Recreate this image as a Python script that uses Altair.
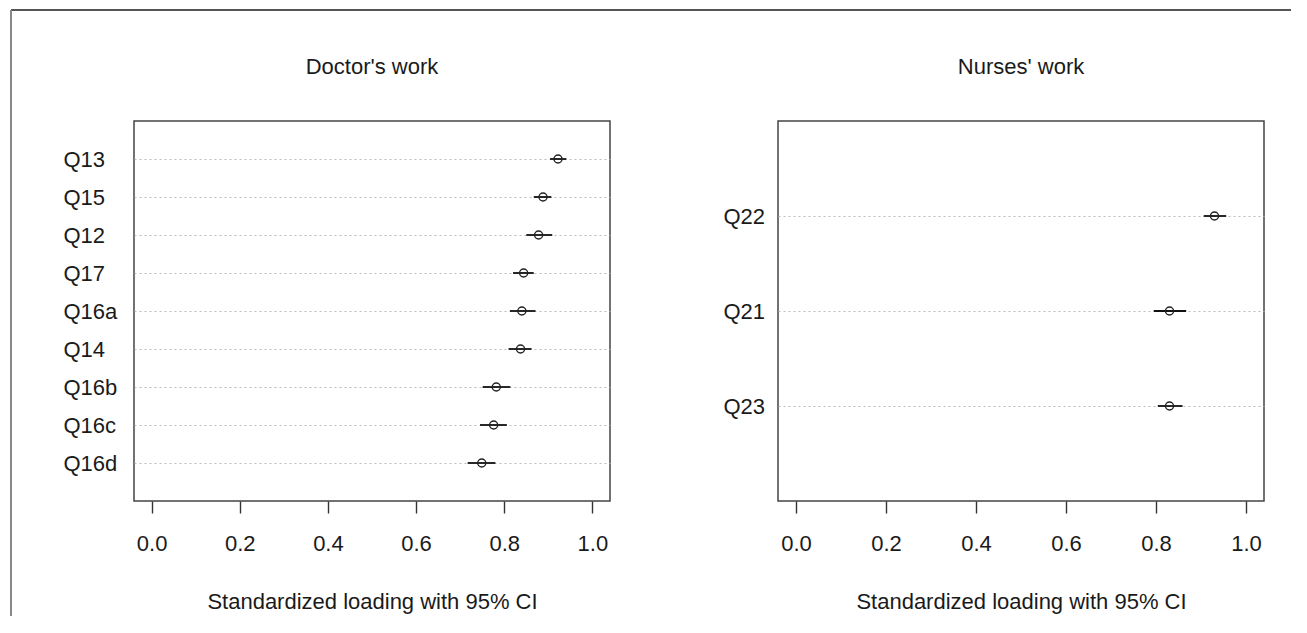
import altair as alt
import pandas as pd

# Doctor's work panel
doc_items = ["Q13", "Q15", "Q12", "Q17", "Q16a", "Q14", "Q16b", "Q16c", "Q16d"]
doc_est = [0.922, 0.888, 0.878, 0.844, 0.840, 0.837, 0.782, 0.776, 0.749]
doc_lo = [0.904, 0.867, 0.850, 0.820, 0.813, 0.810, 0.751, 0.745, 0.717]
doc_hi = [0.941, 0.907, 0.909, 0.867, 0.871, 0.862, 0.814, 0.806, 0.780]

# Nurses' work panel
nurse_items = ["Q22", "Q21", "Q23"]
nurse_est = [0.930, 0.830, 0.830]
nurse_lo = [0.906, 0.795, 0.804]
nurse_hi = [0.956, 0.867, 0.859]

x_ticks = [0.0, 0.2, 0.4, 0.6, 0.8, 1.0]
x_title = "Standardized loading with 95% CI"

FONT = "Liberation Sans"
FS = 22
TXT = "#1a1a1a"
H = 380


def panel(items, est, lo, hi, title, width, label_pad, frame=False):
    df = pd.DataFrame({"item": items, "est": est, "lo": lo, "hi": hi})
    xscale = alt.Scale(domain=[-0.04, 1.04], nice=False, zero=False)
    yscale = alt.Scale(type="point", padding=1)
    xaxis = alt.Axis(
        values=x_ticks, format=".1f", tickSize=12, tickColor="#333333",
        tickWidth=1.4, domain=False, grid=False, labelFontSize=FS,
        labelFont=FONT, labelColor=TXT, labelPadding=30,
        labelBaseline="middle", labelFlush=False, labelOverlap=False,
        title=x_title, titleY=100, titleBaseline="middle", titleFontSize=FS,
        titleFont=FONT, titleFontWeight="normal", titleColor=TXT,
    )
    yaxis = alt.Axis(
        title=None, labelAlign="left", labelPadding=label_pad, ticks=False,
        tickSize=0, domain=False, grid=True, gridDash=[2, 3],
        gridColor="#bbbbbb", gridWidth=1, labelFontSize=FS, labelFont=FONT,
        labelColor=TXT, labelBaseline="middle",
    )
    y_enc = alt.Y("item:N", sort=None, scale=yscale, axis=yaxis)
    base = alt.Chart(df)
    ci = base.mark_rule(color="#111111", strokeWidth=1.8).encode(
        x=alt.X("lo:Q", scale=xscale, axis=xaxis),
        x2="hi:Q",
        y=y_enc,
    )
    pts = base.mark_point(
        shape="circle", filled=False, size=65, strokeWidth=1.4,
        color="#222222", opacity=1,
    ).encode(
        x=alt.X("est:Q", scale=xscale),
        y=y_enc,
    )
    ttl = alt.Chart(alt.Data(values=[{"t": title}])).mark_text(
        fontSize=FS, font=FONT, color=TXT, align="center", baseline="middle"
    ).encode(text="t:N", x=alt.value(width / 2), y=alt.value(-54))
    layers = [ci, pts, ttl]
    if frame:
        one = alt.Data(values=[{"a": 1}])
        top = alt.Chart(one).mark_rule(color="#555555", strokeWidth=2).encode(
            x=alt.value(-123), x2=alt.value(1157), y=alt.value(-111)
        )
        left = alt.Chart(one).mark_rule(color="#888888", strokeWidth=2).encode(
            x=alt.value(-123), y=alt.value(-111), y2=alt.value(495)
        )
        layers += [top, left]
    return alt.layer(*layers).properties(width=width, height=H)


left_panel = panel(doc_items, doc_est, doc_lo, doc_hi, "Doctor's work", 476, 71, frame=True)
right_panel = panel(nurse_items, nurse_est, nurse_lo, nurse_hi, "Nurses' work", 486, 55)

chart = (
    alt.hconcat(left_panel, right_panel, spacing=168, bounds="flush")
    .properties(padding={"left": 1, "top": 0, "right": 0, "bottom": 0})
    .configure(font=FONT, background="white")
    .configure_view(stroke="#444444", strokeWidth=1.5)
)

chart.save("out.html", embed_options={"renderer": "svg", "actions": False})
